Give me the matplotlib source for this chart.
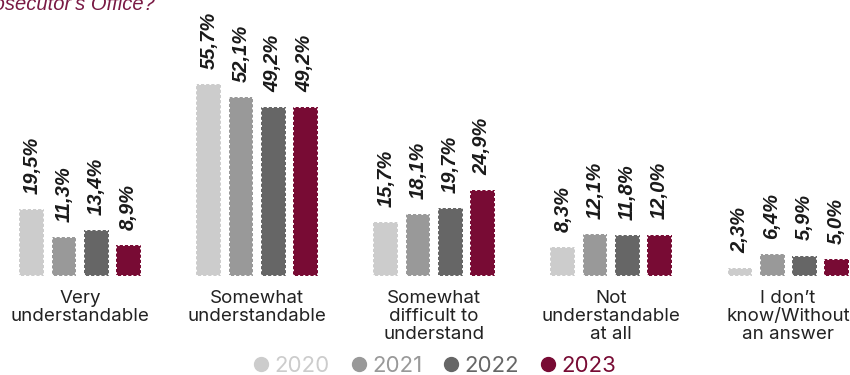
import numpy as np
import matplotlib
matplotlib.use("Agg")
import matplotlib.pyplot as plt
from matplotlib.lines import Line2D

categories = ["Very\nunderstandable", "Somewhat\nunderstandable", "Somewhat\ndifficult to\nunderstand",
              "Not\nunderstandable\nat all", "I don’t\nknow/Without\nan answer"]
years = ["2020", "2021", "2022", "2023"]
v2020 = [19.5, 55.7, 15.7, 8.3, 2.3]
v2021 = [11.3, 52.1, 18.1, 12.1, 6.4]
v2022 = [13.4, 49.2, 19.7, 11.8, 5.9]
v2023 = [8.9, 49.2, 24.9, 12.0, 5.0]
colors = ["#cccccc", "#999999", "#666666", "#780b34"]

series = [v2020, v2021, v2022, v2023]

fig = plt.figure(figsize=(8.5, 3.75), dpi=100)
ax = fig.add_axes([0, 0, 1, 1])
ax.set_xlim(-0.452, 4.350)
ax.set_ylim(-28.8, 80.2)
ax.axis("off")

x = np.arange(len(categories))
pitch = 0.181
width = 0.141
for j, (vals, col) in enumerate(zip(series, colors)):
    xs = x + (j - 1.5) * pitch
    ax.bar(xs, vals, width=width, color=col, edgecolor="white", linestyle=":", linewidth=1.4)
    for xi, v in zip(xs, vals):
        ax.text(xi, v + 4.4, f"{v:.1f}%".replace(".", ","), rotation=90, ha="center", va="bottom",
                fontsize=14.5, fontweight="bold", fontstyle="italic", family="Liberation Sans", color="#1a1a1a")

for xi, cat in zip(x, categories):
    ax.text(xi, -4.0, cat, ha="center", va="top", fontsize=13.5, family="Inter", color="#222222",
            linespacing=1.1)

# title, cut off at the top-left like in the original
ax.text(-0.452 + 155 / 177, 77.3, "How understandable is the work of the Prosecutor's Office?",
        ha="right", va="baseline", fontsize=14.5, fontstyle="italic", family="Liberation Sans", color="#7a1a45")

handles = [Line2D([], [], marker="o", linestyle="", markersize=10, markerfacecolor=c, markeredgecolor=c)
           for c in colors]
leg = ax.legend(handles, years, loc="center", bbox_to_anchor=(0.511, 0.024), ncol=4, frameon=False,
                handletextpad=0.2, columnspacing=0.9, handlelength=0.8, prop={"family": "Inter", "size": 16})
for t, c in zip(leg.get_texts(), colors):
    t.set_color(c)

fig.savefig("out.png", dpi=100)
